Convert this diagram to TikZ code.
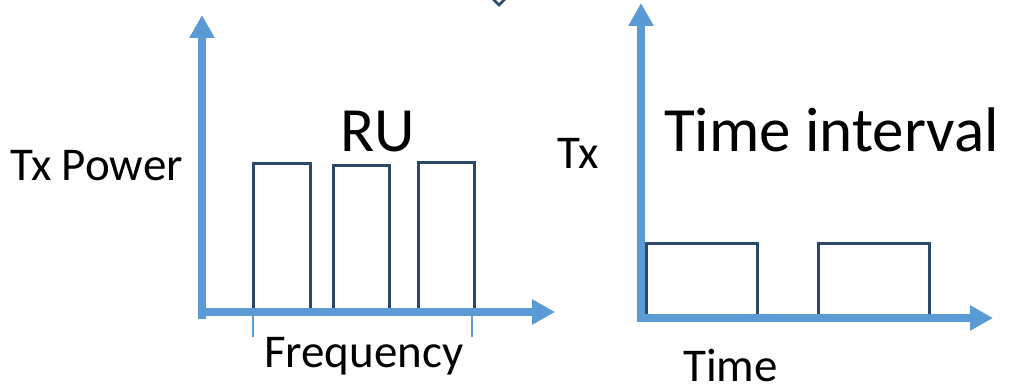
\documentclass[tikz,border=0pt]{standalone}
\usepackage{fontspec}
\setmainfont{Carlito}
\usetikzlibrary{arrows.meta}
\definecolor{axisblue}{HTML}{5B9BD5}
\definecolor{barblue}{HTML}{2B4A6B}
\tikzset{
  axisline/.style={draw=axisblue, line width=8pt, -{Triangle[length=23pt,width=24pt]}},
  bar/.style={draw=barblue, line width=3pt},
  tick/.style={draw=axisblue, line width=1.2pt},
  lbl/.style={inner sep=0pt, anchor=base west, font=\fontsize{47}{50}\selectfont},
  biglbl/.style={inner sep=0pt, anchor=base west, font=\fontsize{63}{68}\selectfont},
}
\begin{document}
\begin{tikzpicture}[x=1pt,y=-1pt]
\useasboundingbox (0,0) rectangle (1011,390);
% top chevron
\draw[draw=barblue, line width=2.5pt] (493,-1) -- (499,5) -- (505,-1);
% left chart bars
\draw[bar] (253,312) |- (310,164) -- (310,312);
\draw[bar] (333,312) |- (389,166) -- (389,312);
\draw[bar] (418,312) |- (474,163) -- (474,312);
% right chart bars
\draw[bar] (646,318) |- (757,243) -- (757,318);
\draw[bar] (818,318) |- (929,243) -- (929,318);
% left axes
\coordinate (lytip) at (202,15);
\coordinate (lxtip) at (555,312);
\draw[axisline] (202,319) -- (lytip);
\draw[axisline] (198,312) -- (lxtip);
% ticks
\draw[tick] (253,312) -- (253,337);
\draw[tick] (472,312) -- (472,337);
% right axes
\coordinate (rytip) at (641,3);
\coordinate (rxtip) at (993,318);
\draw[axisline] (641,322) -- (rytip);
\draw[axisline] (637,318) -- (rxtip);
% labels
\node[lbl] (txpower) at (10,181) {Tx Power};
\node[biglbl] (ru) at (340,152) {RU};
\node[lbl] (freq) at (264,367) {Frequency};
\node[lbl] (tx) at (557,169) {Tx};
\node[biglbl] (ti) at (664,152) {Time interval};
\node[lbl] (time) at (683,381) {Time};
\end{tikzpicture}
\end{document}
